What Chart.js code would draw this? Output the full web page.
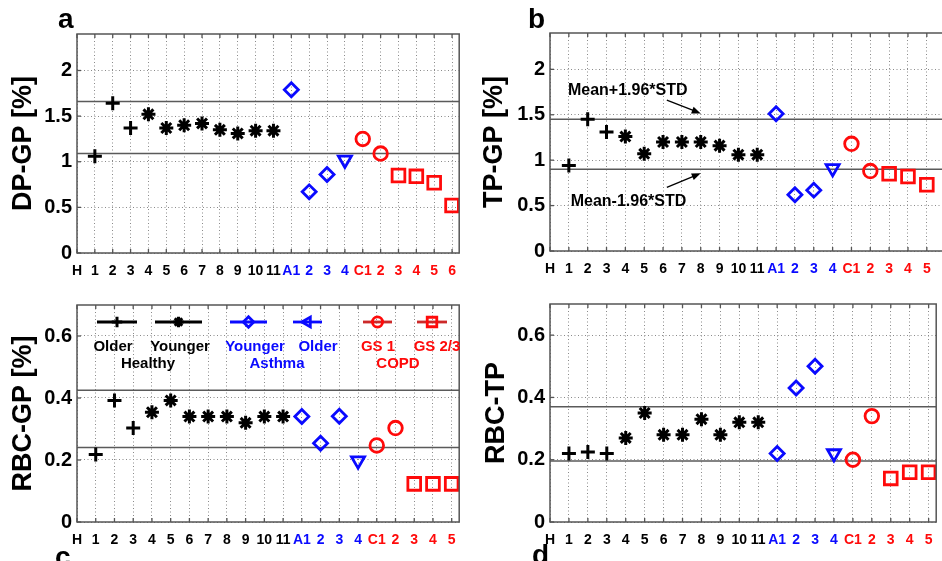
<!DOCTYPE html>
<html>
<head>
<meta charset="utf-8">
<script src="https://cdn.jsdelivr.net/npm/chart.js@4.4.1/dist/chart.umd.min.js"></script>
<style>
  body { margin: 0; width: 942px; height: 561px; overflow: hidden; background: #fff; position: relative; }
  canvas { position: absolute; }
</style>
</head>
<body>
<canvas id="panelA" width="471" height="285" style="left:0;top:0"></canvas>
<canvas id="panelB" width="494" height="285" style="left:471px;top:0"></canvas>
<canvas id="panelC" width="471" height="276" style="left:0;top:285px"></canvas>
<canvas id="panelD" width="477" height="276" style="left:471px;top:285px"></canvas>
<script>
// subject labels along the x axis ("H" sits at 0)
const labelsAB = ['1','2','3','4','5','6','7','8','9','10','11','A1','2','3','4','C1','2','3','4','5','6'];
const labelsCD = ['1','2','3','4','5','6','7','8','9','10','11','A1','2','3','4','C1','2','3','4','5'];

// subject positions for each group
const olderHealthyPos = [1, 2, 3];
const youngerHealthyPos = [4, 5, 6, 7, 8, 9, 10, 11];
const youngerAsthmaPos = [12, 13, 14];
const olderAsthmaPos = [15];
const copdGs1Pos = [16, 17];
const copdGs23Pos = [18, 19, 20, 21];

// a: DP-GP [%]
const dpOlderHealthy = [1.06, 1.64, 1.37];
const dpYoungerHealthy = [1.52, 1.37, 1.40, 1.42, 1.35, 1.31, 1.34, 1.34];
const dpYoungerAsthma = [1.79, 0.67, 0.86];
const dpOlderAsthma = [1.02];
const dpGs1 = [1.25, 1.09];
const dpGs23 = [0.85, 0.84, 0.77, 0.52];
const dpLimits = [1.66, 1.09];

// b: TP-GP [%]
const tpOlderHealthy = [0.94, 1.45, 1.31];
const tpYoungerHealthy = [1.26, 1.07, 1.20, 1.20, 1.20, 1.16, 1.06, 1.06];
const tpYoungerAsthma = [1.51, 0.62, 0.67];
const tpOlderAsthma = [0.91];
const tpGs1 = [1.18, 0.88];
const tpGs23 = [0.85, 0.82, 0.73];
const tpLimits = [1.45, 0.90];

// c: RBC-GP [%]
const rgOlderHealthy = [0.218, 0.392, 0.303];
const rgYoungerHealthy = [0.354, 0.392, 0.34, 0.34, 0.34, 0.32, 0.34, 0.34];
const rgYoungerAsthma = [0.34, 0.254, 0.341];
const rgOlderAsthma = [0.198];
const rgGs1 = [0.247, 0.303];
const rgGs23 = [0.123, 0.123, 0.123];
const rgLimits = [0.425, 0.24];

// d: RBC-TP
const rtOlderHealthy = [0.22, 0.225, 0.22];
const rtYoungerHealthy = [0.27, 0.35, 0.28, 0.28, 0.33, 0.28, 0.32, 0.32];
const rtYoungerAsthma = [0.22, 0.43, 0.50];
const rtOlderAsthma = [0.22];
const rtGs1 = [0.20, 0.34];
const rtGs23 = [0.14, 0.16, 0.16];
const rtLimits = [0.37, 0.196];

const yTicksGP = [0, 0.5, 1, 1.5, 2];
const yTicksRBC = [0, 0.2, 0.4, 0.6];

const BLUE = '#0a0aff';
const RED = '#ff0a0a';
const FRAME = '#555';
const SANS = '"Liberation Sans", Arial, sans-serif';

const pts = (pos, vals) => vals.map((v, i) => ({ x: pos[i], y: v }));

function tickColor(v) {
  if (v >= 16) return RED;
  if (v >= 12) return BLUE;
  return '#000';
}

// marker looks shared by the plots and the legend
const markers = {
  olderHealthy:   { pointStyle: 'cross',   rotation: 0,   radius: 7,   borderWidth: 3,   color: '#000' },
  youngerHealthy: { pointStyle: 'star',    rotation: 0,   radius: 7,   borderWidth: 3,   color: '#000' },
  youngerAsthma:  { pointStyle: 'rectRot', rotation: 0,   radius: 7,   borderWidth: 2.8, color: BLUE },
  olderAsthma:    { pointStyle: 'triangle',rotation: 180, radius: 7.5, borderWidth: 2.8, color: BLUE },
  gs1:            { pointStyle: 'circle',  rotation: 0,   radius: 6.8, borderWidth: 2.8, color: RED },
  gs23:           { pointStyle: 'rect',    rotation: 0,   radius: 9,   borderWidth: 2.8, color: RED }
};

function markerSet(m, data) {
  return {
    type: 'scatter', data: data, showLine: false,
    pointStyle: m.pointStyle, rotation: m.rotation, pointRadius: m.radius,
    pointBorderWidth: m.borderWidth, pointBorderColor: m.color,
    pointBackgroundColor: 'rgba(0,0,0,0)'
  };
}

function limitSet(y, xMax) {
  return {
    type: 'line', data: [{ x: 0, y: y }, { x: xMax, y: y }],
    borderColor: '#5a5a5a', borderWidth: 1.5, pointRadius: 0
  };
}

function drawArrow(ctx, x0, y0, x1, y1) {
  const a = Math.atan2(y1 - y0, x1 - x0);
  ctx.beginPath();
  ctx.moveTo(x0, y0);
  ctx.lineTo(x1 - 6 * Math.cos(a), y1 - 6 * Math.sin(a));
  ctx.stroke();
  ctx.beginPath();
  ctx.moveTo(x1, y1);
  ctx.lineTo(x1 - 9 * Math.cos(a) + 3.5 * Math.sin(a), y1 - 9 * Math.sin(a) - 3.5 * Math.cos(a));
  ctx.lineTo(x1 - 9 * Math.cos(a) - 3.5 * Math.sin(a), y1 - 9 * Math.sin(a) + 3.5 * Math.cos(a));
  ctx.closePath();
  ctx.fill();
}

// box, inward ticks, panel letter and any extra drawing
const decoPlugin = {
  id: 'deco',
  afterDraw(chart, args, opts) {
    const ctx = chart.ctx;
    const area = chart.chartArea;
    const xs = chart.scales.x, ys = chart.scales.y;
    ctx.save();
    ctx.strokeStyle = FRAME;
    ctx.lineWidth = 1.3;
    xs.ticks.forEach(t => {
      const px = xs.getPixelForValue(t.value);
      ctx.beginPath();
      ctx.moveTo(px, area.bottom); ctx.lineTo(px, area.bottom - 4);
      ctx.moveTo(px, area.top); ctx.lineTo(px, area.top + 4);
      ctx.stroke();
    });
    ys.ticks.forEach(t => {
      const py = ys.getPixelForValue(t.value);
      ctx.beginPath();
      ctx.moveTo(area.left, py); ctx.lineTo(area.left + 4, py);
      ctx.stroke();
    });
    ctx.lineWidth = 1.5;
    ctx.strokeRect(area.left, area.top, area.right - area.left, area.bottom - area.top);

    ctx.fillStyle = '#000';
    ctx.font = 'bold 28px ' + SANS;
    ctx.textBaseline = 'alphabetic';
    ctx.textAlign = 'left';
    ctx.fillText(opts.letter, opts.letterX, opts.letterY);
    if (opts.extra) opts.extra(chart, ctx);
    ctx.restore();
  }
};

function makePanel(id, p) {
  const xMax = p.labels.length + 0.4;
  const datasets = [
    markerSet(markers.olderHealthy, pts(olderHealthyPos, p.olderHealthy)),
    markerSet(markers.youngerHealthy, pts(youngerHealthyPos, p.youngerHealthy)),
    markerSet(markers.youngerAsthma, pts(youngerAsthmaPos, p.youngerAsthma)),
    markerSet(markers.olderAsthma, pts(olderAsthmaPos, p.olderAsthma)),
    markerSet(markers.gs1, pts(copdGs1Pos, p.gs1)),
    markerSet(markers.gs23, pts(copdGs23Pos, p.gs23)),
    limitSet(p.limits[0], xMax),
    limitSet(p.limits[1], xMax)
  ];
  return new Chart(document.getElementById(id), {
    type: 'scatter',
    data: { datasets: datasets },
    options: {
      responsive: false,
      animation: false,
      events: [],
      layout: { padding: { top: p.padTop, right: p.padRight, left: 0, bottom: 0 } },
      plugins: {
        legend: { display: false },
        tooltip: { enabled: false },
        deco: { letter: p.letter, letterX: p.letterX, letterY: p.letterY, extra: p.extra }
      },
      scales: {
        x: {
          type: 'linear', min: 0, max: xMax,
          afterBuildTicks: s => { s.ticks = [0].concat(p.labels.map((l, i) => i + 1)).map(v => ({ value: v })); },
          afterFit: s => { s.height = p.xAxisH; },
          grid: { color: '#8a8a8a', lineWidth: 1, drawTicks: false },
          border: { display: false, dash: [1, 2.5] },
          ticks: {
            padding: 10, autoSkip: false, maxRotation: 0,
            font: { family: SANS, size: 14, weight: 'bold' },
            color: c => tickColor(c.tick.value),
            callback: v => (v === 0 ? 'H' : p.labels[v - 1])
          }
        },
        y: {
          min: 0, max: p.yMax,
          afterBuildTicks: s => { s.ticks = p.yTicks.map(v => ({ value: v })); },
          afterFit: s => { s.width = p.yAxisW; },
          grid: { color: '#8a8a8a', lineWidth: 1, drawTicks: false },
          border: { display: false, dash: [1, 2.5] },
          ticks: {
            padding: 5, color: '#000',
            font: { family: SANS, size: 20, weight: 'bold' },
            callback: v => String(v)
          },
          title: {
            display: true, text: p.title, color: '#000',
            font: { family: SANS, size: 27, weight: 'bold' },
            padding: { top: p.titlePad, bottom: 0 }
          }
        }
      }
    },
    plugins: [decoPlugin]
  });
}

makePanel('panelA', {
  labels: labelsAB, yMax: 2.4, yTicks: yTicksGP, title: 'DP-GP [%]',
  olderHealthy: dpOlderHealthy, youngerHealthy: dpYoungerHealthy, youngerAsthma: dpYoungerAsthma,
  olderAsthma: dpOlderAsthma, gs1: dpGs1, gs23: dpGs23, limits: dpLimits,
  padTop: 34, padRight: 4, xAxisH: 32, yAxisW: 77, titlePad: 7,
  letter: 'a', letterX: 58, letterY: 28
});

makePanel('panelB', {
  labels: labelsAB, yMax: 2.4, yTicks: yTicksGP, title: 'TP-GP [%]',
  olderHealthy: tpOlderHealthy, youngerHealthy: tpYoungerHealthy, youngerAsthma: tpYoungerAsthma,
  olderAsthma: tpOlderAsthma, gs1: tpGs1, gs23: tpGs23, limits: tpLimits,
  padTop: 33, padRight: 4, xAxisH: 34, yAxisW: 79, titlePad: 7,
  letter: 'b', letterX: 57, letterY: 28,
  extra: (chart, ctx) => {
    const xs = chart.scales.x, ys = chart.scales.y;
    ctx.fillStyle = '#000';
    ctx.strokeStyle = '#000';
    ctx.lineWidth = 1.3;
    ctx.font = 'bold 16px ' + SANS;
    ctx.textBaseline = 'middle';
    ctx.textAlign = 'left';
    ctx.fillText('Mean+1.96*STD', xs.getPixelForValue(0.95), ys.getPixelForValue(tpLimits[0] + 0.32));
    ctx.fillText('Mean-1.96*STD', xs.getPixelForValue(1.1), ys.getPixelForValue(tpLimits[1] - 0.36));
    drawArrow(ctx, xs.getPixelForValue(6.2), ys.getPixelForValue(tpLimits[0] + 0.21),
      xs.getPixelForValue(8), ys.getPixelForValue(tpLimits[0] + 0.065));
    drawArrow(ctx, xs.getPixelForValue(6.2), ys.getPixelForValue(tpLimits[1] - 0.2),
      xs.getPixelForValue(8), ys.getPixelForValue(tpLimits[1] - 0.045));
  }
});

// group legend inside panel c
const legendItems = [
  { m: markers.olderHealthy, x0: 97, x1: 137, line: '#000' },
  { m: markers.youngerHealthy, x0: 155, x1: 202, line: '#000' },
  { m: markers.youngerAsthma, x0: 230, x1: 267, line: BLUE },
  { m: Object.assign({}, markers.olderAsthma, { rotation: 270 }), x0: 293, x1: 322, line: BLUE },
  { m: markers.gs1, x0: 363, x1: 392, line: '#cc2a2a' },
  { m: markers.gs23, x0: 417, x1: 447, line: '#cc2a2a' }
];
const legendText = [
  { t: 'Older', x: 113, y: 62, c: '#000' }, { t: 'Younger', x: 180, y: 62, c: '#000' },
  { t: 'Healthy', x: 148, y: 79, c: '#000' },
  { t: 'Younger', x: 255, y: 62, c: BLUE }, { t: 'Older', x: 318, y: 62, c: BLUE },
  { t: 'Asthma', x: 277, y: 79, c: BLUE },
  { t: 'GS 1', x: 378, y: 62, c: RED }, { t: 'GS 2/3', x: 437, y: 62, c: RED },
  { t: 'COPD', x: 398, y: 79, c: RED }
];

makePanel('panelC', {
  labels: labelsCD, yMax: 0.7, yTicks: yTicksRBC, title: 'RBC-GP [%]',
  olderHealthy: rgOlderHealthy, youngerHealthy: rgYoungerHealthy, youngerAsthma: rgYoungerAsthma,
  olderAsthma: rgOlderAsthma, gs1: rgGs1, gs23: rgGs23, limits: rgLimits,
  padTop: 20, padRight: 4, xAxisH: 39, yAxisW: 77, titlePad: 7,
  letter: 'c', letterX: 55, letterY: 281,
  extra: (chart, ctx) => {
    const y = 37;
    legendItems.forEach(it => {
      ctx.strokeStyle = it.line;
      ctx.lineWidth = 2.8;
      ctx.beginPath();
      ctx.moveTo(it.x0, y); ctx.lineTo(it.x1, y);
      ctx.stroke();
      const cx = (it.x0 + it.x1) / 2;
      ctx.strokeStyle = it.m.color;
      ctx.fillStyle = 'rgba(0,0,0,0)';
      ctx.lineWidth = it.m.borderWidth;
      Chart.helpers.drawPoint(ctx, {
        pointStyle: it.m.pointStyle, rotation: it.m.rotation,
        radius: it.m.radius * 0.75, borderWidth: it.m.borderWidth
      }, cx, y);
    });
    ctx.font = 'bold 15px ' + SANS;
    ctx.textAlign = 'center';
    ctx.textBaseline = 'middle';
    legendText.forEach(l => {
      ctx.fillStyle = l.c;
      ctx.fillText(l.t, l.x, l.y);
    });
  }
});

makePanel('panelD', {
  labels: labelsCD, yMax: 0.7, yTicks: yTicksRBC, title: 'RBC-TP',
  olderHealthy: rtOlderHealthy, youngerHealthy: rtYoungerHealthy, youngerAsthma: rtYoungerAsthma,
  olderAsthma: rtOlderAsthma, gs1: rtGs1, gs23: rtGs23, limits: rtLimits,
  padTop: 19, padRight: 4, xAxisH: 39, yAxisW: 79, titlePad: 9,
  letter: 'd', letterX: 61, letterY: 279
});
</script>
</body>
</html>
